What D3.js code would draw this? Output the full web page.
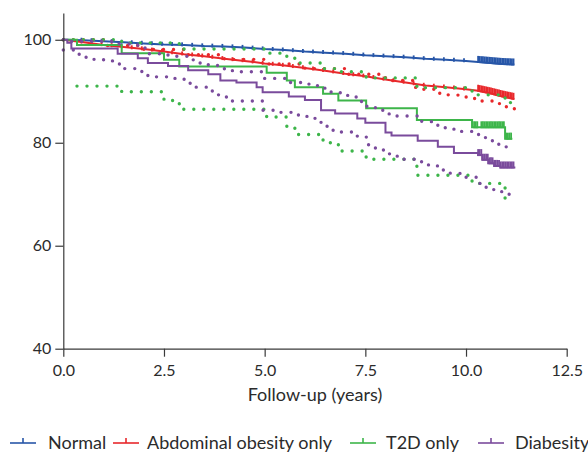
<!DOCTYPE html>
<html lang="en">
<head>
<meta charset="utf-8">
<title>Survival by group</title>
<script src="https://cdn.jsdelivr.net/npm/d3@7"></script>
<style>
  body { margin: 0; background: #fff; }
  svg text { font-family: Lato, "Open Sans", sans-serif; fill: #2b2b2b; }
  .axis path, .axis line { stroke: #3a3a3a; stroke-width: 1.2; }
  .axis text { font-size: 16px; }
</style>
</head>
<body>
<script>
// ---- data ----
let groups = ["Normal", "Abdominal obesity only", "T2D only", "Diabesity"]
let colors = ["#2756a8", "#e8282b", "#3db54a", "#7a4b9c"]
let xTicks = [0, 2.5, 5, 7.5, 10, 12.5]
let yTicks = [40, 60, 80, 100]

// survival curves [years, %]
let normalKM = [[0,100],[0.5,99.9],[1,99.7],[1.5,99.5],[2,99.3],[2.5,99.1],[3,99.0],[3.5,98.8],[4,98.7],[4.5,98.5],[5,98.2],[5.5,98.0],[6,97.7],[6.5,97.5],[7,97.3],[7.5,97.0],[8,96.8],[8.5,96.6],[9,96.3],[9.5,96.1],[10,95.9],[10.3,95.7],[10.6,95.5],[10.9,95.3],[11.2,95.2]]
let obesityKM = [[0,100],[0.5,99.5],[1,99.0],[1.5,98.6],[2,98.2],[2.5,97.7],[3,97.2],[3.5,96.8],[4,96.3],[4.5,95.9],[5,95.4],[5.5,95.0],[6,94.5],[6.5,94.0],[7,93.4],[7.5,92.9],[8,92.3],[8.5,91.7],[9,91.1],[9.5,90.8],[10,90.4],[10.3,90.1],[10.6,89.6],[10.9,89.0],[11.2,88.5]]
let t2dKM = [[0,100],[0.34,99.0],[1.45,97.4],[2.5,96.1],[2.88,94.8],[5.05,93.6],[5.55,92.1],[5.75,90.8],[6.45,89.5],[6.83,88.2],[7.52,86.7],[8.78,84.4],[10.15,83.0],[10.97,80.8],[11.15,80.8]]
let diabesityKM = [[0,100],[0.1,99.4],[0.2,98.3],[1.35,97.3],[1.85,96.4],[2.1,95.5],[2.6,94.9],[3.1,94.1],[3.6,93.3],[3.9,92.1],[4.3,91.7],[4.8,90.8],[4.95,89.8],[5.6,89.0],[6.0,88.3],[6.4,86.3],[6.75,85.7],[7.3,84.7],[7.5,83.9],[8.0,82.0],[8.15,81.4],[8.8,80.4],[9.3,79.2],[9.7,78.0],[10.3,77.6],[10.4,76.7],[10.55,76.0],[10.7,75.5],[10.85,75.2],[11.2,75.0]]

// confidence limits (dotted)
let obesityLow = [[0,100],[1,98.9],[2,98.1],[3,97.1],[4,96.2],[5,95.3],[6,94.4],[7,93.3],[8,92.1],[8.75,90.4],[9.2,89.6],[9.5,89.3],[9.8,88.9],[10.1,88.6],[10.4,88.1],[10.7,87.6],[10.95,87.0],[11.2,86.6]]
let t2dUp = [[0,100],[1.45,99.4],[2.88,98.2],[5.05,97.4],[5.55,96.4],[5.75,95.5],[6.45,94.4],[6.83,93.8],[7.52,92.6],[8.78,90.7],[10.15,89.3],[10.97,87.8],[11.15,87.8]]
let t2dLow = [[0.34,91.0],[1.45,89.9],[2.5,88.2],[2.88,86.5],[5.05,85.0],[5.55,83.2],[5.75,81.6],[6.45,80.0],[6.83,78.4],[7.52,76.8],[8.78,73.7],[10.15,72.1],[10.97,69.2],[11.15,69.2]]
let diabesityUp = [[0,100],[0.2,99.7],[1.35,99.2],[1.85,98.4],[2.1,97.3],[2.6,96.8],[3.1,96.1],[3.35,95.5],[3.6,95.0],[3.9,94.5],[4.0,94.0],[4.3,93.8],[4.95,92.5],[5.6,91.7],[6.1,91.1],[6.4,90.6],[6.65,89.7],[6.9,89.2],[7.1,88.9],[7.3,88.0],[7.5,87.1],[7.75,86.3],[8.0,85.6],[8.15,85.2],[8.9,84.1],[9.3,82.9],[9.7,82.2],[10.2,81.6],[10.45,81.0],[10.6,80.4],[10.75,79.7],[10.9,79.2],[11.1,78.9],[11.2,78.9]]
let diabesityLow = [[0,98.0],[0.3,97.2],[0.5,96.6],[0.75,96.2],[1.0,95.9],[1.35,95.3],[1.5,94.4],[1.95,93.8],[2.1,92.8],[2.6,92.5],[3.0,91.7],[3.15,91.2],[3.3,90.8],[3.55,90.4],[3.7,89.9],[3.85,89.3],[4.05,88.4],[4.2,88.1],[4.95,86.3],[5.25,85.9],[5.75,85.4],[6.05,84.9],[6.25,84.4],[6.4,83.4],[6.55,82.5],[6.7,82.1],[7.3,81.1],[7.55,79.6],[7.75,78.6],[7.95,77.9],[8.1,77.4],[8.3,76.8],[8.75,76.3],[8.9,75.7],[9.1,75.5],[9.3,74.7],[9.45,74.1],[9.85,73.3],[10.3,72.1],[10.5,70.9],[10.7,70.5],[11.0,70.0],[11.2,69.8]]

// censoring times (years)
let earlyCensor = [0.45,0.7,0.95,1.2,1.45,1.7,1.95,2.2,2.45,2.7,2.95,3.2,3.45,3.7,3.95,4.2,4.45,4.7,4.95,5.2,5.45,5.7,5.95,6.2,6.45,6.7,6.95,7.2,7.45,7.7,7.95,8.2,8.45,8.7,8.95,9.2,9.45,9.7,9.95]
let lateCensor = [10.3,10.34,10.38,10.42,10.46,10.5,10.54,10.58,10.62,10.66,10.7,10.74,10.78,10.82,10.86,10.9,10.94,10.98,11.02,11.06,11.1,11.14,11.18]
let t2dCensor = [10.2,10.24,10.28,10.38,10.42,10.46,10.5,10.54,10.58,10.62,10.66,10.7,10.74,10.78,10.82,10.86,10.9,10.94,11.0,11.04,11.08,11.12]

// ---- chart ----
let w = 588
let h = 452

let svg = d3.select("body").append("svg")
  .attr("width", w)
  .attr("height", h)

let xScale = d3.scaleLinear().domain([0, 12.5]).range([63.3, 566.7])
let yScale = d3.scaleLinear().domain([40, 105.2]).range([348.7, 13])

let stepLine = d3.line()
  .x((d) => xScale(d[0]))
  .y((d) => yScale(d[1]))
  .curve(d3.curveStepAfter)

let smoothLine = d3.line()
  .x((d) => xScale(d[0]))
  .y((d) => yScale(d[1]))

// value of a curve at time t
function valueAt(curve, t, stepped) {
  let i = d3.bisector((d) => d[0]).right(curve, t) - 1
  i = Math.max(0, Math.min(i, curve.length - 1))
  if (stepped || i == curve.length - 1) return curve[i][1]
  let a = curve[i], b = curve[i + 1]
  return a[1] + (b[1] - a[1]) * (t - a[0]) / (b[0] - a[0])
}

let series = [
  { km: normalKM, stepped: false, ci: [], censor: earlyCensor, late: lateCensor },
  { km: obesityKM, stepped: false, ci: [obesityLow], censor: earlyCensor, late: lateCensor },
  { km: t2dKM, stepped: true, ci: [t2dUp, t2dLow], censor: [], late: t2dCensor },
  { km: diabesityKM, stepped: true, ci: [diabesityUp, diabesityLow], censor: [], late: lateCensor }
]

series.forEach(function(s, k) {
  let g = svg.append("g")
  let col = colors[k]

  g.append("path")
    .attr("d", (s.stepped ? stepLine : smoothLine)(s.km))
    .attr("fill", "none")
    .attr("stroke", col)
    .attr("stroke-width", 2)

  // sparse censor marks: small ticks
  g.selectAll("line.cens")
    .data(s.censor)
    .enter()
    .append("line")
    .attr("class", "cens")
    .attr("x1", (d) => xScale(d))
    .attr("x2", (d) => xScale(d))
    .attr("y1", (d) => yScale(valueAt(s.km, d, s.stepped)) + 1.5)
    .attr("y2", (d) => yScale(valueAt(s.km, d, s.stepped)) - 2.5)
    .attr("stroke", col)
    .attr("stroke-width", 1.8)

  // dense censoring at the end of follow-up
  g.selectAll("line.late")
    .data(s.late)
    .enter()
    .append("line")
    .attr("class", "late")
    .attr("x1", (d) => xScale(d))
    .attr("x2", (d) => xScale(d))
    .attr("y1", (d) => yScale(valueAt(s.km, d, s.stepped)) + 1)
    .attr("y2", (d) => yScale(valueAt(s.km, d, s.stepped)) - 6)
    .attr("stroke", col)
    .attr("stroke-width", 1.8)

  s.ci.forEach(function(c) {
    g.append("path")
      .attr("d", stepLine(c))
      .attr("fill", "none")
      .attr("stroke", col)
      .attr("stroke-width", 3.4)
      .attr("stroke-linecap", "round")
      .attr("stroke-dasharray", "0 10")
  })
})

// axes
let xAxis = d3.axisBottom(xScale)
  .tickValues(xTicks)
  .tickFormat(d3.format(".1f"))
  .tickSize(8)
  .tickSizeOuter(0)
  .tickPadding(8)

let yAxis = d3.axisLeft(yScale)
  .tickValues(yTicks)
  .tickSize(8)
  .tickSizeOuter(0)
  .tickPadding(4)

svg.append("g")
  .attr("class", "x axis")
  .attr("transform", "translate(0," + yScale(40) + ")")
  .call(xAxis)

svg.append("g")
  .attr("class", "y axis")
  .attr("transform", "translate(" + xScale(0) + ",0)")
  .call(yAxis)

svg.selectAll(".axis .domain").attr("stroke", "#3a3a3a")

svg.append("text")
  .attr("x", (xScale(0) + xScale(12.5)) / 2)
  .attr("y", 401)
  .attr("text-anchor", "middle")
  .style("font-size", "18px")
  .text("Follow-up (years)")

// legend
let legLineX = [10, 113, 350, 478]
let legTextX = [48, 147, 386, 515]
let legY = 443

groups.forEach(function(name, k) {
  let lg = svg.append("g")
  lg.append("line")
    .attr("x1", legLineX[k]).attr("x2", legLineX[k] + 26)
    .attr("y1", legY).attr("y2", legY)
    .attr("stroke", colors[k]).attr("stroke-width", 1.6)
  lg.append("line")
    .attr("x1", legLineX[k] + 13).attr("x2", legLineX[k] + 13)
    .attr("y1", legY).attr("y2", legY - 5)
    .attr("stroke", colors[k]).attr("stroke-width", 1.6)
  lg.append("text")
    .attr("x", legTextX[k])
    .attr("y", 448.5)
    .style("font-size", "18px")
    .text(name)
})
</script>
</body>
</html>
